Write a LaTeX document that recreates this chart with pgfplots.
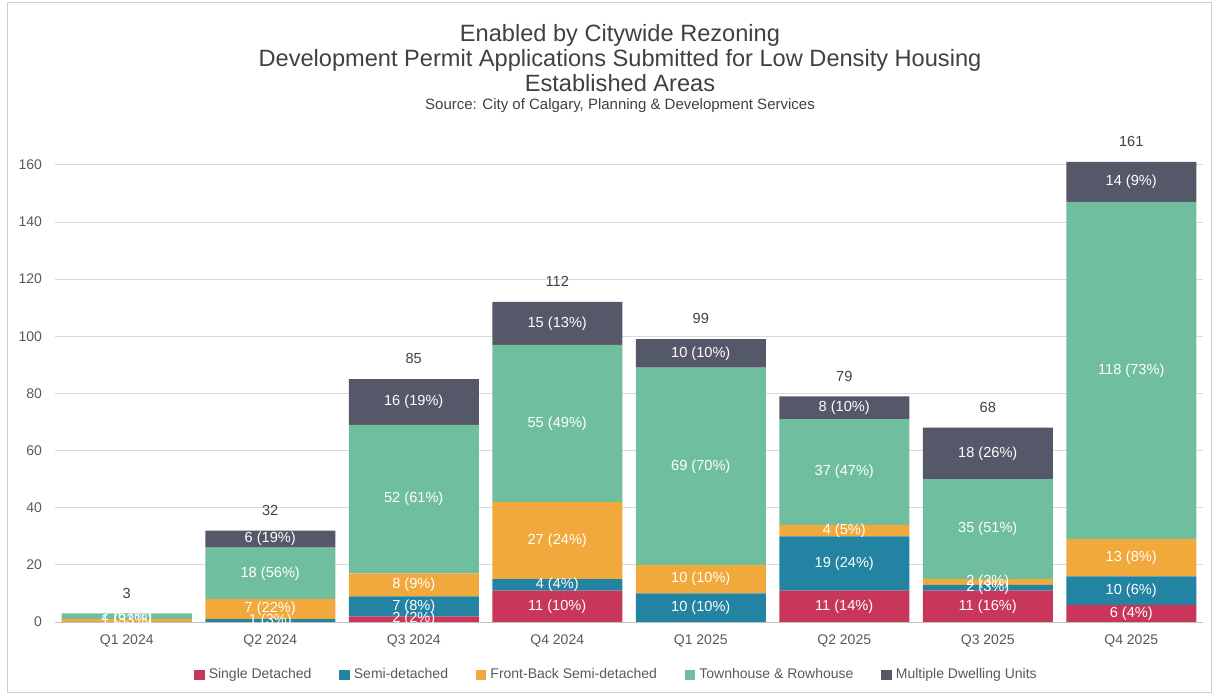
\documentclass[border=0pt]{standalone}
\usepackage{pgfplots}
\pgfplotsset{compat=1.18}
\usepackage{pgfplotstable}
\usepackage{fontspec}
\setmainfont{Liberation Sans}
\definecolor{cSD}{HTML}{C8365A}
\definecolor{cSE}{HTML}{2383A3}
\definecolor{cFB}{HTML}{F2A93B}
\definecolor{cTH}{HTML}{6FBF9F}
\definecolor{cMD}{HTML}{555869}
\definecolor{txt}{HTML}{595959}
\definecolor{ttl}{HTML}{404040}

\pgfplotstableread{
x sd sdl se sel fb fbl th thl md mdl tot
0 0 {} 0 {} 1 {1 (33\%)} 2 {2 (67\%)} 0 {} 3
1 0 {} 1 {1 (3\%)} 7 {7 (22\%)} 18 {18 (56\%)} 6 {6 (19\%)} 32
2 2 {2 (2\%)} 7 {7 (8\%)} 8 {8 (9\%)} 52 {52 (61\%)} 16 {16 (19\%)} 85
3 11 {11 (10\%)} 4 {4 (4\%)} 27 {27 (24\%)} 55 {55 (49\%)} 15 {15 (13\%)} 112
4 0 {} 10 {10 (10\%)} 10 {10 (10\%)} 69 {69 (70\%)} 10 {10 (10\%)} 99
5 11 {11 (14\%)} 19 {19 (24\%)} 4 {4 (5\%)} 37 {37 (47\%)} 8 {8 (10\%)} 79
6 11 {11 (16\%)} 2 {2 (3\%)} 2 {2 (3\%)} 35 {35 (51\%)} 18 {18 (26\%)} 68
7 6 {6 (4\%)} 10 {10 (6\%)} 13 {13 (8\%)} 118 {118 (73\%)} 14 {14 (9\%)} 161
}\data

% stacked nodes near coords already sit in the middle of each segment
\pgfplotsset{lbl/.style={nodes near coords, point meta=explicit symbolic,
  every node near coord/.append style={anchor=center, text=white, font=\fontsize{7.3}{8}\selectfont}}}

\begin{document}
\begin{tikzpicture}
\useasboundingbox (-27.5pt,-36.5pt) rectangle (580.5pt,311pt);
\draw[black!20] (-24pt,-35pt) rectangle (578pt,310pt);
\node[align=center, font=\fontsize{11.8}{12.4}\selectfont, text=ttl] at (282.5pt,282pt) {Enabled by Citywide Rezoning\\Development Permit Applications Submitted for Low Density Housing\\Established Areas};
\node[font=\fontsize{7.5}{8}\selectfont, text=ttl] at (282.5pt,258pt) {Source: City of Calgary, Planning \& Development Services};
\begin{axis}[
  at={(0pt,0pt)}, anchor=south west,
  scale only axis, width=574pt, height=250pt,
  ybar stacked, bar width=65pt,
  xmin=-0.5, xmax=7.5, ymin=0, ymax=175,
  xtick={0,...,7},
  xticklabels={Q1 2024,Q2 2024,Q3 2024,Q4 2024,Q1 2025,Q2 2025,Q3 2025,Q4 2025},
  ytick={0,20,...,160},
  ymajorgrids, grid style={black!15},
  axis x line*=bottom, axis y line*=left,
  x axis line style={black!25}, y axis line style={draw=none},
  major tick length=0pt,
  tick label style={font=\fontsize{7}{8}\selectfont, text=txt},
  yticklabel style={xshift=-3pt},
  xticklabel style={yshift=-3pt},
  /pgf/number format/assume math mode=true,
  legend columns=5,
  legend style={at={(0.49,-0.106)}, anchor=center, draw=none, font=\fontsize{7}{8}\selectfont, text=txt,
    /tikz/every even column/.append style={column sep=12pt}},
  legend image code/.code={\fill[#1] (0pt,-2.6pt) rectangle (5.2pt,2.6pt);},
]
\addplot[fill=cSD, draw=none, lbl] table[x=x, y=sd, meta=sdl] {\data};
\addlegendentry{Single Detached}
\addplot[fill=cSE, draw=none, lbl] table[x=x, y=se, meta=sel] {\data};
\addlegendentry{Semi-detached}
\addplot[fill=cFB, draw=none, lbl] table[x=x, y=fb, meta=fbl] {\data};
\addlegendentry{Front-Back Semi-detached}
\addplot[fill=cTH, draw=none, lbl] table[x=x, y=th, meta=thl] {\data};
\addlegendentry{Townhouse \& Rowhouse}
\addplot[fill=cMD, draw=none, lbl] table[x=x, y=md, meta=mdl] {\data};
\addlegendentry{Multiple Dwelling Units}
\addplot[fill=none, draw=none, forget plot, nodes near coords, point meta=explicit symbolic,
  every node near coord/.append style={anchor=south, text=ttl, yshift=4pt, font=\fontsize{7.3}{8}\selectfont}]
  table[x=x, y expr=0.001, meta=tot] {\data};
\end{axis}
\end{tikzpicture}
\end{document}
